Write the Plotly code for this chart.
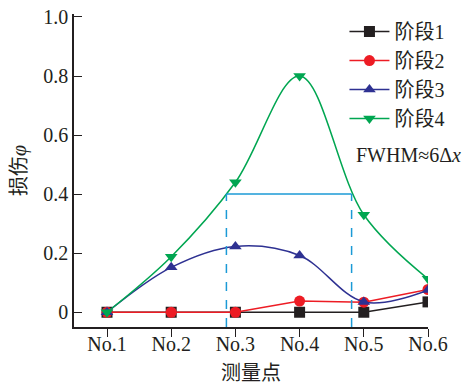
import plotly.graph_objects as go

points = ["No.1", "No.2", "No.3", "No.4", "No.5", "No.6"]
x_pos = [1, 2, 3, 4, 5, 6]
stage1 = [0.0, 0.0, 0.0, 0.0, 0.0, 0.035]
stage2 = [0.0, 0.0, 0.0, 0.038, 0.034, 0.077]
stage3 = [0.0, 0.152, 0.223, 0.192, 0.035, 0.075]
stage4 = [0.0, 0.188, 0.44, 0.80, 0.33, 0.113]
names = ["阶段1", "阶段2", "阶段3", "阶段4"]
y_ticks = [0, 0.2, 0.4, 0.6, 0.8, 1.0]
y_tick_text = ["0", "0.2", "0.4", "0.6", "0.8", "1.0"]
fwhm_left, fwhm_right, half_max = 2.86, 4.81, 0.4

FONT = "Liberation Serif, Times New Roman, Noto Sans CJK SC, serif"
colors = ["#231f20", "#ed1c24", "#2e3192", "#00a651"]
symbols = ["square", "circle", "triangle-up", "triangle-down"]
shapes_line = ["linear", "linear", "spline", "spline"]

fig = go.Figure()
for name, ys, c, s, ls in zip(names, [stage1, stage2, stage3, stage4], colors, symbols, shapes_line):
    fig.add_trace(go.Scatter(
        x=x_pos, y=ys, name=name, mode="lines+markers",
        line=dict(color=c, width=1.5, shape=ls, smoothing=1.0),
        marker=dict(symbol=s, size=11, color=c),
    ))

dash_c = "#1b9ad6"
fig.add_shape(type="line", xref="x", yref="y", x0=fwhm_left, x1=fwhm_left, y0=-0.05, y1=half_max,
              line=dict(color=dash_c, width=1.5, dash="dash"))
fig.add_shape(type="line", xref="x", yref="y", x0=fwhm_right, x1=fwhm_right, y0=-0.05, y1=half_max,
              line=dict(color=dash_c, width=1.5, dash="dash"))
fig.add_shape(type="line", xref="x", yref="y", x0=fwhm_left, x1=fwhm_right, y0=half_max, y1=half_max,
              line=dict(color=dash_c, width=1.5))

# page body has an 8px margin: figure is sized/offset to compensate
fig.add_annotation(xref="paper", yref="paper", x=0.79, y=0.548, xanchor="left", yanchor="middle",
                   text="FWHM≈6Δ<i>x</i>", showarrow=False,
                   font=dict(family=FONT, size=20, color="#231f20"))

fig.update_layout(
    width=462, height=378,
    margin=dict(l=66, r=42, t=6, b=59, autoexpand=False),
    paper_bgcolor="white", plot_bgcolor="white",
    font=dict(family=FONT, size=20, color="#231f20"),
    showlegend=True,
    legend=dict(x=0.764, y=1.006, xanchor="left", yanchor="top", bgcolor="rgba(0,0,0,0)",
                font=dict(family=FONT, size=20), tracegroupgap=0, itemwidth=40),
    xaxis=dict(range=[0.486, 6.0], tickvals=x_pos, ticktext=points, showline=True, linecolor="#231f20",
               linewidth=1.5, ticks="outside", ticklen=8, tickcolor="#231f20", showgrid=False, zeroline=False,
               automargin=False, ticklabelstandoff=-10, ticklabeloverflow="allow",
               title=dict(text="测量点", font=dict(size=20), standoff=12), tickfont=dict(size=20)),
    yaxis=dict(range=[-0.05, 1.01], tickvals=y_ticks, ticktext=y_tick_text, showline=True, linecolor="#231f20",
               linewidth=1.5, ticks="inside", ticklen=8, tickcolor="#231f20", showgrid=False, zeroline=False,
               automargin=False, ticklabeloverflow="allow",
               title=dict(text="损伤<i>φ</i>", font=dict(size=20), standoff=11), tickfont=dict(size=20)),
)

fig.write_html("out.html")
